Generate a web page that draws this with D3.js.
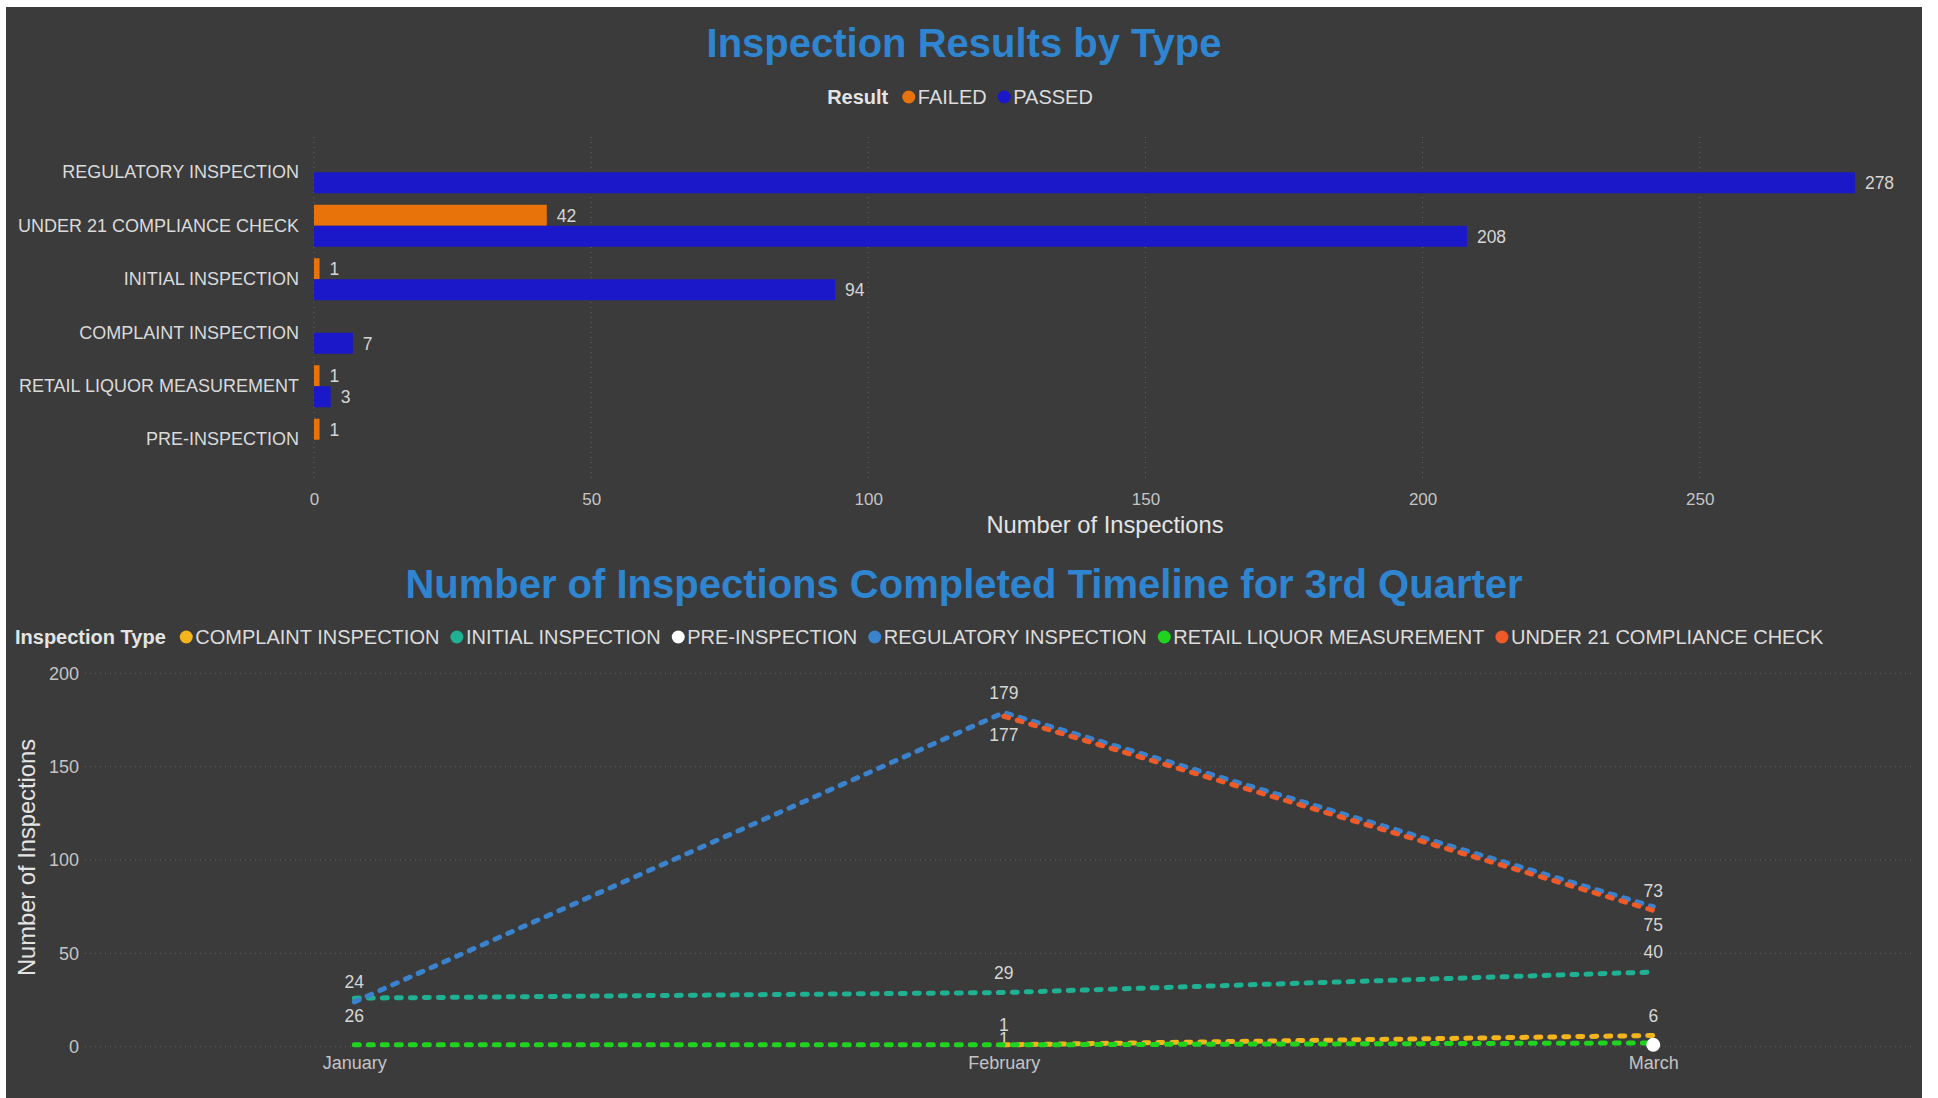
<!DOCTYPE html>
<html>
<head>
<meta charset="utf-8">
<script src="https://cdn.jsdelivr.net/npm/d3@7"></script>
<style>
	body { margin: 0; background: #ffffff; }
	text { font-family: "Liberation Sans", Arial, sans-serif; }
</style>
</head>
<body>
<div id="chart"></div>
<script>

// Inspection results by type
const categories = ["REGULATORY INSPECTION", "UNDER 21 COMPLIANCE CHECK", "INITIAL INSPECTION", "COMPLAINT INSPECTION", "RETAIL LIQUOR MEASUREMENT", "PRE-INSPECTION"];
const results = ["FAILED", "PASSED"];
const failedCounts = [null, 42, 1, null, 1, 1];
const passedCounts = [278, 208, 94, 7, 3, null];
const countTicks = [0, 50, 100, 150, 200, 250];

// Timeline for 3rd quarter
const months = ["January", "February", "March"];
const inspectionTypes = ["COMPLAINT INSPECTION", "INITIAL INSPECTION", "PRE-INSPECTION", "REGULATORY INSPECTION", "RETAIL LIQUOR MEASUREMENT", "UNDER 21 COMPLIANCE CHECK"];
const complaintByMonth = [null, 1, 6];
const initialByMonth = [26, 29, 40];
const preByMonth = [null, null, 1];
const regulatoryByMonth = [24, 179, 75];
const retailByMonth = [1, 1, 2];
const under21ByMonth = [null, 177, 73];
const timelineTicks = [0, 50, 100, 150, 200];

const w = 1938;
const h = 1098;
const labelColor = "#d6d6d6";
const gridColor = "#626262";

const svg = d3.select("#chart")
	.append("svg")
	.attr("width", w)
	.attr("height", h);

svg.append("rect")
	.attr("x", 6)
	.attr("y", 7)
	.attr("width", 1916)
	.attr("height", h - 7)
	.attr("fill", "#3b3b3b");

// legend helper: bold title, then dot + label for every item
function drawLegend(title, items, color, xPos, yMid, centered) {
	const g = svg.append("g");
	const t = g.append("text")
		.text(title)
		.attr("y", yMid + 7)
		.attr("font-size", "20px")
		.attr("font-weight", "bold")
		.attr("fill", "#e4e4e4");
	let cx = t.node().getComputedTextLength() + 14;
	items.forEach((item, i) => {
		g.append("circle")
			.attr("cx", cx + 6.5)
			.attr("cy", yMid)
			.attr("r", 6.5)
			.attr("fill", color(item));
		const lt = g.append("text")
			.text(item)
			.attr("x", cx + 15.5)
			.attr("y", yMid + 7)
			.attr("font-size", "20px")
			.attr("fill", "#dcdcdc");
		cx += 15.5 + lt.node().getComputedTextLength() + 11;
	});
	const total = cx - 11;
	g.attr("transform", `translate(${centered ? xPos - total / 2 : xPos}, 0)`);
}

// ---------- Top chart ----------

const x = d3.scaleLinear()
	.domain([0, 280])
	.range([314, 1866]);

const y = d3.scaleBand()
	.domain(categories)
	.range([135.5, 476.5])
	.paddingInner(0.215)
	.paddingOuter(0.295);

const ySub = d3.scaleBand()
	.domain(results)
	.range([0, y.bandwidth()]);

const resultColor = d3.scaleOrdinal()
	.domain(results)
	.range(["#e8730b", "#1a18c9"]);

svg.append("text")
	.text("Inspection Results by Type")
	.attr("x", 964)
	.attr("y", 57)
	.attr("text-anchor", "middle")
	.attr("font-size", "40px")
	.attr("font-weight", "bold")
	.attr("fill", "#2f85d0");

drawLegend("Result", results, resultColor, 960, 97, true);

svg.append("g")
	.selectAll("line")
	.data(countTicks)
	.join("line")
	.attr("x1", d => x(d))
	.attr("x2", d => x(d))
	.attr("y1", 137)
	.attr("y2", 480)
	.attr("stroke", gridColor)
	.attr("stroke-dasharray", "1,4");

const barRows = categories.flatMap((c, i) => [
	{ cat: c, result: "FAILED", value: failedCounts[i] },
	{ cat: c, result: "PASSED", value: passedCounts[i] }
]).filter(d => d.value != null);

svg.append("g")
	.selectAll("rect")
	.data(barRows)
	.join("rect")
	.attr("x", x(0))
	.attr("y", d => y(d.cat) + ySub(d.result))
	.attr("width", d => x(d.value) - x(0))
	.attr("height", ySub.bandwidth())
	.attr("fill", d => resultColor(d.result));

svg.append("g")
	.selectAll("text")
	.data(barRows)
	.join("text")
	.text(d => d.value)
	.attr("x", d => x(d.value) + 10)
	.attr("y", d => y(d.cat) + ySub(d.result) + ySub.bandwidth() / 2)
	.attr("dy", "0.36em")
	.attr("font-size", "17.5px")
	.attr("fill", labelColor);

const catAxis = svg.append("g")
	.attr("transform", `translate(${x(0)}, 0)`)
	.call(d3.axisLeft(y).tickSize(0).tickPadding(15));
catAxis.select(".domain").remove();
catAxis.selectAll("text")
	.attr("font-size", "18px")
	.attr("font-family", "Liberation Sans, Arial, sans-serif")
	.attr("fill", "#dadada");

const countAxis = svg.append("g")
	.attr("transform", "translate(0, 493)")
	.call(d3.axisBottom(x).tickValues(countTicks).tickSize(0).tickPadding(0));
countAxis.select(".domain").remove();
countAxis.selectAll("text")
	.attr("font-size", "17px")
	.attr("font-family", "Liberation Sans, Arial, sans-serif")
	.attr("fill", "#c4c4c4");

svg.append("text")
	.text("Number of Inspections")
	.attr("x", 1105)
	.attr("y", 533)
	.attr("text-anchor", "middle")
	.attr("font-size", "23.7px")
	.attr("fill", "#e4e4e4");

// ---------- Bottom chart ----------

const typeColor = d3.scaleOrdinal()
	.domain(inspectionTypes)
	.range(["#f4b41c", "#1fb192", "#ffffff", "#3b82cc", "#1fd31f", "#ef5a29"]);

const byMonth = [complaintByMonth, initialByMonth, preByMonth, regulatoryByMonth, retailByMonth, under21ByMonth];
const series = inspectionTypes.map((t, i) => ({
	type: t,
	values: months.map((m, j) => ({ m: m, v: byMonth[i][j] }))
}));

const xm = d3.scalePoint()
	.domain(months)
	.range([85, 1912])
	.padding(0.4065)
	.align(0.51);

const yc = d3.scaleLinear()
	.domain([0, 200])
	.range([1046.7, 673.3]);

svg.append("text")
	.text("Number of Inspections Completed Timeline for 3rd Quarter")
	.attr("x", 964)
	.attr("y", 598)
	.attr("text-anchor", "middle")
	.attr("font-size", "40px")
	.attr("font-weight", "bold")
	.attr("fill", "#2f85d0");

drawLegend("Inspection Type", inspectionTypes, typeColor, 15, 637, false);

svg.append("g")
	.selectAll("line")
	.data(timelineTicks)
	.join("line")
	.attr("x1", 85)
	.attr("x2", 1912)
	.attr("y1", d => yc(d))
	.attr("y2", d => yc(d))
	.attr("stroke", gridColor)
	.attr("stroke-dasharray", "1,4");

const valAxis = svg.append("g")
	.attr("transform", "translate(85, 0)")
	.call(d3.axisLeft(yc).tickValues(timelineTicks).tickSize(0).tickPadding(6));
valAxis.select(".domain").remove();
valAxis.selectAll("text")
	.attr("font-size", "18px")
	.attr("font-family", "Liberation Sans, Arial, sans-serif")
	.attr("fill", "#c4c4c4");

const monthAxis = svg.append("g")
	.attr("transform", "translate(0, 1056)")
	.call(d3.axisBottom(xm).tickSize(0).tickPadding(0));
monthAxis.select(".domain").remove();
monthAxis.selectAll("text")
	.attr("font-size", "18px")
	.attr("font-family", "Liberation Sans, Arial, sans-serif")
	.attr("fill", "#c4c4c4");

svg.append("text")
	.text("Number of Inspections")
	.attr("transform", "translate(34.5, 857.5) rotate(-90)")
	.attr("text-anchor", "middle")
	.attr("font-size", "23.7px")
	.attr("fill", "#e4e4e4");

// where each data label sits: above / below the point, "behind" = tucked under the lines
const labelSpots = {
	"COMPLAINT INSPECTION": [null, "above", "above"],
	"INITIAL INSPECTION": ["below", "above", "above"],
	"PRE-INSPECTION": [null, null, null],
	"REGULATORY INSPECTION": ["above", "above", "below"],
	"RETAIL LIQUOR MEASUREMENT": [null, "behind", null],
	"UNDER 21 COMPLIANCE CHECK": [null, "below", "above"]
};
const spotOffset = { above: -20, below: 18, behind: -6 };

const labelRows = series.flatMap(s => s.values.map((d, j) => ({
	type: s.type, m: d.m, v: d.v, spot: labelSpots[s.type][j]
}))).filter(d => d.v != null && d.spot);

function drawLabels(rows) {
	svg.append("g")
		.selectAll("text")
		.data(rows)
		.join("text")
		.text(d => d.v)
		.attr("x", d => xm(d.m))
		.attr("y", d => yc(d.v) + spotOffset[d.spot])
		.attr("dy", "0.36em")
		.attr("text-anchor", "middle")
		.attr("font-size", "17.5px")
		.attr("fill", labelColor);
}

drawLabels(labelRows.filter(d => d.spot == "behind"));

const line = d3.line()
	.defined(d => d.v != null)
	.x(d => xm(d.m))
	.y(d => yc(d.v));

svg.append("g")
	.selectAll("path")
	.data(series.filter(s => s.values.filter(d => d.v != null).length > 1))
	.join("path")
	.attr("d", s => line(s.values))
	.attr("fill", "none")
	.attr("stroke", s => typeColor(s.type))
	.attr("stroke-width", 5)
	.attr("stroke-dasharray", "5,9")
	.attr("stroke-linecap", "round");

// a type with one month only shows as a marker
svg.append("g")
	.selectAll("circle")
	.data(series.filter(s => s.values.filter(d => d.v != null).length == 1))
	.join("circle")
	.attr("cx", s => xm(s.values.find(d => d.v != null).m))
	.attr("cy", s => yc(s.values.find(d => d.v != null).v))
	.attr("r", 7)
	.attr("fill", s => typeColor(s.type));

drawLabels(labelRows.filter(d => d.spot != "behind"));

</script>
</body>
</html>
